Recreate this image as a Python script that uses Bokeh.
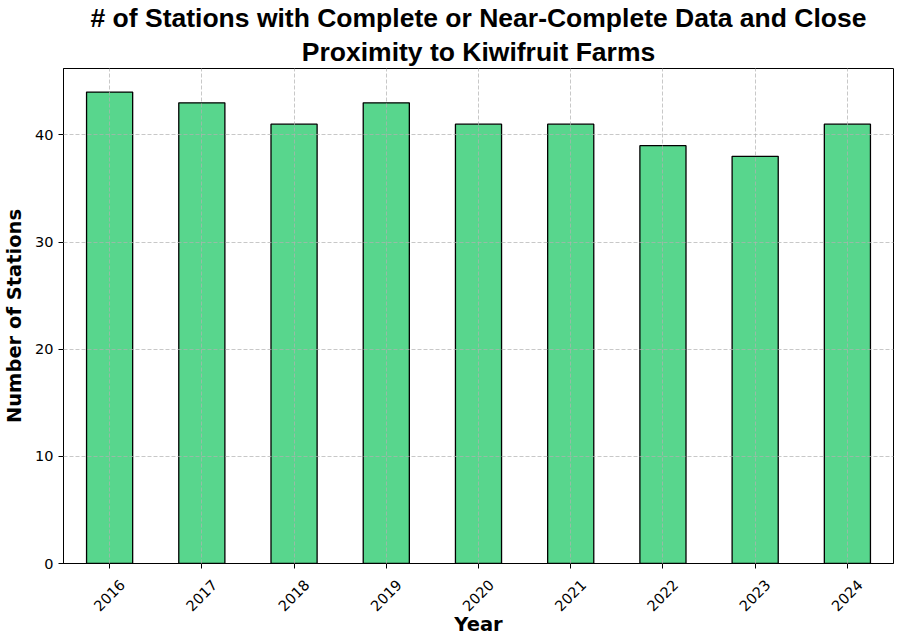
from bokeh.plotting import figure
from bokeh.models import Title, FixedTicker, LinearAxis, Range1d
from bokeh.embed import file_html
from bokeh.resources import INLINE
import math

title_lines = ["# of Stations with Complete or Near-Complete Data and Close",
               "Proximity to Kiwifruit Farms"]
years = ["2016", "2017", "2018", "2019", "2020", "2021", "2022", "2023", "2024"]
stations = [44, 43, 41, 43, 41, 41, 39, 38, 41]
y_ticks = [0, 10, 20, 30, 40]

pos = list(range(len(years)))

p = figure(x_range=Range1d(-0.5, len(years) - 0.5), y_range=(0, 46.2),
           frame_width=830, frame_height=495,
           output_backend="svg", toolbar_location=None,
           min_border_left=55, min_border_right=5, min_border_top=64, min_border_bottom=70)
p.title = None
# titles stack outward from the frame: add the second line first
for i, line in enumerate(reversed(title_lines)):
    p.add_layout(Title(text=line, align="center",
                       text_font="Liberation Sans", text_font_size="26.5px", text_font_style="bold",
                       text_color="black", standoff=4 if i == 0 else 0, offset=0), "above")

p.vbar(x=pos, top=stations, width=0.5, fill_color="#58D68D", line_color="black", line_width=1.3)

p.yaxis.ticker = FixedTicker(ticks=y_ticks)
p.xaxis.ticker = FixedTicker(ticks=pos)
for ax in [p.xaxis[0], p.yaxis[0]]:
    ax.major_label_text_font = "DejaVu Sans"
    ax.major_label_text_font_size = "14.5px"
    ax.major_label_text_color = "black"
    ax.axis_label_text_font = "DejaVu Sans"
    ax.axis_label_text_font_size = "19.5px"
    ax.axis_label_text_font_style = "bold"
    ax.axis_label_text_color = "black"
    ax.major_tick_in = 0
    ax.major_tick_out = 5
    ax.minor_tick_line_color = None
    ax.axis_line_color = "black"
    ax.major_tick_line_color = "black"

p.yaxis.axis_label = "Number of Stations"
p.yaxis.axis_label_standoff = 6
# main x axis: tick marks only
p.xaxis.major_label_text_alpha = 0
p.xaxis.major_label_standoff = 0

# label axis: same years, nudged so rotated labels sit centred under the ticks
shift = 0.14
p.extra_x_ranges = {"lab": Range1d(start=-0.5 - shift, end=len(years) - 0.5 - shift)}
lab_axis = LinearAxis(x_range_name="lab", ticker=FixedTicker(ticks=pos),
                      major_label_overrides={i: y for i, y in zip(pos, years)},
                      major_label_orientation=math.pi / 4, major_label_standoff=14,
                      major_tick_in=0, major_tick_out=0, minor_tick_line_color=None,
                      axis_line_color=None, major_tick_line_color=None,
                      major_label_text_font="DejaVu Sans", major_label_text_font_size="14.5px",
                      major_label_text_color="black",
                      axis_label="Year", axis_label_standoff=-6,
                      axis_label_text_font="DejaVu Sans", axis_label_text_font_size="19.5px",
                      axis_label_text_font_style="bold", axis_label_text_color="black")
p.add_layout(lab_axis, "below")

p.outline_line_color = "black"
p.outline_line_width = 1
for g in [p.xgrid[0], p.ygrid[0]]:
    g.grid_line_color = "#b0b0b0"
    g.grid_line_alpha = 0.7
    g.grid_line_dash = "4 2"
    g.level = "overlay"

open("out.html", "w").write(file_html(p, INLINE))
